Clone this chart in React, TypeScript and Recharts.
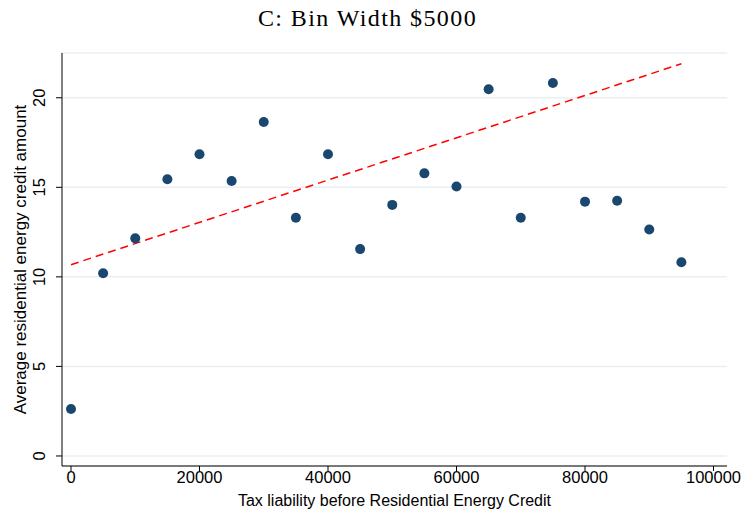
import { ComposedChart, Scatter, Line, XAxis, YAxis, CartesianGrid } from "recharts";

// binned averages, $5000 bins
const binStart = [0, 5000, 10000, 15000, 20000, 25000, 30000, 35000, 40000, 45000, 50000, 55000, 60000, 65000, 70000, 75000, 80000, 85000, 90000, 95000];
const avgCredit = [2.62, 10.2, 12.15, 15.45, 16.85, 15.35, 18.65, 13.3, 16.85, 11.55, 14.02, 15.78, 15.05, 20.48, 13.3, 20.82, 14.2, 14.25, 12.65, 10.82];

// linear fit endpoints
const fitX = [0, 95000];
const fitY = [10.68, 21.9];

const xTicks = [0, 20000, 40000, 60000, 80000, 100000];
const yTicks = [0, 5, 10, 15, 20];

const points = binStart.map((x, i) => ({ x, y: avgCredit[i] }));
const fitLine = fitX.map((x, i) => ({ x, fit: fitY[i] }));

const sans = "'Liberation Sans', Arial, sans-serif";

function YTick({ x, y, payload }: any) {
  const bx = x - 9;
  return (
    <text
      x={bx}
      y={y}
      transform={`rotate(-90 ${bx} ${y})`}
      textAnchor="middle"
      fontFamily={sans}
      fontSize={16.5}
      fill="#000"
    >
      {payload.value}
    </text>
  );
}

export default function App() {
  return (
    <div style={{ position: "absolute", left: 0, top: 0, width: 745, height: 516, background: "#fff" }}>
      <div
        style={{
          position: "absolute",
          top: 5,
          left: -5,
          width: 745,
          textAlign: "center",
          fontFamily: "'Liberation Serif', 'Times New Roman', serif",
          fontSize: 24,
          letterSpacing: 1.4,
          color: "#000",
        }}
      >
        C: Bin Width $5000
      </div>
      <ComposedChart
        width={745}
        height={516}
        margin={{ top: 53, right: 18, left: 18, bottom: 0 }}
      >
        <CartesianGrid horizontal vertical={false} stroke="#e9f0f2" strokeWidth={1.5} />
        <XAxis
          type="number"
          dataKey="x"
          domain={[-1400, 102100]}
          ticks={xTicks}
          allowDataOverflow
          height={50}
          tick={{ fontFamily: sans, fontSize: 16.5, fill: "#000" }}
          tickSize={5}
          tickMargin={0}
          stroke="#000"
          label={{
            value: "Tax liability before Residential Energy Credit",
            position: "insideBottom",
            offset: 10,
            style: { fontFamily: sans, fontSize: 16, fill: "#000" },
          }}
        />
        <YAxis
          type="number"
          domain={[-0.56, 22.5]}
          ticks={yTicks}
          allowDataOverflow
          width={44}
          tick={<YTick />}
          tickSize={6}
          stroke="#000"
          label={{
            value: "Average residential energy credit amount",
            angle: -90,
            position: "insideLeft",
            offset: 0,
            dx: 2,
            style: { fontFamily: sans, fontSize: 17, fill: "#000", textAnchor: "middle" },
          }}
        />
        <Scatter data={points} dataKey="y" fill="#1a476f" isAnimationActive={false} shape={(p: any) => <circle cx={p.cx} cy={p.cy} r={5} fill="#1a476f" />} />
        <Line
          data={fitLine}
          dataKey="fit"
          stroke="#ff0000"
          strokeWidth={1.5}
          strokeDasharray="8 5"
          dot={false}
          activeDot={false}
          isAnimationActive={false}
          type="linear"
        />
      </ComposedChart>
    </div>
  );
}
